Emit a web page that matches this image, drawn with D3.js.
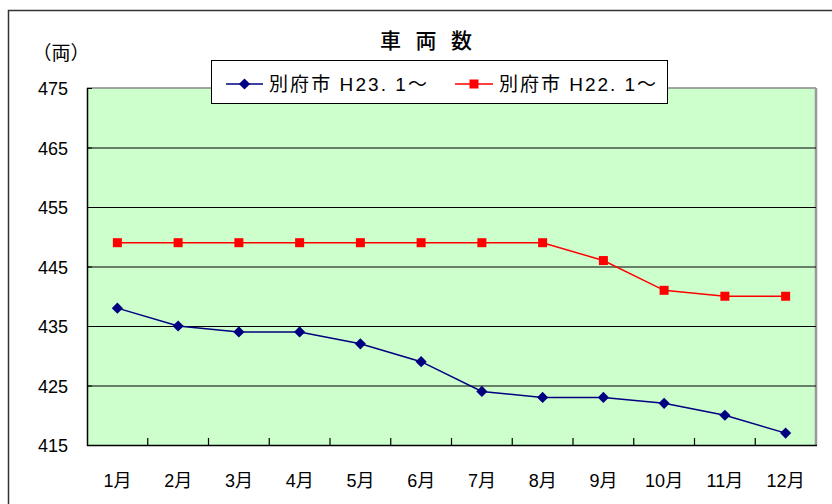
<!DOCTYPE html>
<html><head><meta charset="utf-8">
<script src="https://cdn.jsdelivr.net/npm/d3@7/dist/d3.min.js"></script>
<style>body{margin:0;background:#fff}svg{display:block}text{font-family:"Liberation Sans","Noto Sans CJK JP",sans-serif}</style>
</head><body>
<script>
const months = ["1月","2月","3月","4月","5月","6月","7月","8月","9月","10月","11月","12月"];
const seriesH23 = [438,435,434,434,432,429,424,423,423,422,420,417];
const seriesH22 = [449,449,449,449,449,449,449,449,446,441,440,440];
const yTicks = [415,425,435,445,455,465,475];
const seriesNames = ["別府市 H23. 1〜","別府市 H22. 1〜"];
const title = "車 両 数";
const unit = "（両）";

const W=832,H=504;
const svg=d3.select("body").append("svg").attr("width",W).attr("height",H);
// outer frame
svg.append("rect").attr("x",8.5).attr("y",10.5).attr("width",W).attr("height",H).attr("fill","none").attr("stroke","#333").attr("stroke-width",1.5);

const L=87,R=816,T=88,B=445;
const x=d3.scaleBand().domain(months).range([L,R]);
const y=d3.scaleLinear().domain([415,475]).range([B,T]);

svg.append("rect").attr("x",L).attr("y",T).attr("width",R-L).attr("height",B-T).attr("fill","#ccffcc");
svg.append("line").attr("x1",L).attr("x2",R).attr("y1",T).attr("y2",T).attr("stroke","#888").attr("stroke-width",1.5);
svg.append("line").attr("x1",R).attr("x2",R).attr("y1",T).attr("y2",B).attr("stroke","#999").attr("stroke-width",2.5);
svg.append("g").selectAll("line").data(yTicks.filter(d=>d>415&&d<475)).join("line")
 .attr("x1",L).attr("x2",R).attr("y1",d=>y(d)+0.5).attr("y2",d=>y(d)+0.5).attr("stroke","#000").attr("stroke-width",1);

// y axis
const yAxis=svg.append("g").attr("transform",`translate(${L},0)`)
 .call(d3.axisLeft(y).tickValues(yTicks).tickSize(-5).tickFormat(d3.format("d")));
yAxis.select(".domain").remove();
yAxis.selectAll("line").attr("stroke","#000");
yAxis.selectAll("text").attr("font-size",18).attr("fill","#000").attr("x",-19).attr("dy","0.38em");
svg.append("line").attr("x1",L+0.5).attr("x2",L+0.5).attr("y1",T).attr("y2",B+1).attr("stroke","#000").attr("stroke-width",1.5);

// x axis
const xAxis=svg.append("g").attr("transform",`translate(0,${B})`)
 .call(d3.axisBottom(x).tickSize(0).tickPadding(29));
xAxis.select(".domain").remove();
xAxis.selectAll("text").attr("font-size",18).attr("fill","#000");
svg.append("line").attr("x1",L).attr("x2",R+1).attr("y1",B+0.5).attr("y2",B+0.5).attr("stroke","#000").attr("stroke-width",1.5);
svg.append("g").selectAll("line").data(months.slice(1)).join("line")
 .attr("x1",d=>x(d)).attr("x2",d=>x(d)).attr("y1",B).attr("y2",B-7).attr("stroke","#000").attr("stroke-width",1.2);

const cx=d=>x(d)+x.bandwidth()/2;
const line=d3.line().x((d,i)=>cx(months[i])).y(d=>y(d));
svg.append("path").datum(seriesH22).attr("d",line).attr("fill","none").attr("stroke","#ff0000").attr("stroke-width",1.5);
svg.append("g").selectAll("rect").data(seriesH22).join("rect")
 .attr("x",(d,i)=>cx(months[i])-4.5).attr("y",d=>y(d)-4.5).attr("width",9).attr("height",9).attr("fill","#ff0000");
svg.append("path").datum(seriesH23).attr("d",line).attr("fill","none").attr("stroke","#000080").attr("stroke-width",1.5);
const dia=d3.symbol().type(d3.symbolDiamond2).size(80);
svg.append("g").selectAll("path").data(seriesH23).join("path")
 .attr("d",dia).attr("transform",(d,i)=>`translate(${cx(months[i])},${y(d)})`).attr("fill","#000080");

// title
svg.append("text").attr("x",426).attr("y",48).attr("text-anchor","middle").attr("font-size",21).attr("font-weight","500").attr("fill","#000")
 .attr("textLength",92).attr("lengthAdjust","spacing").text(title);
// unit
svg.append("text").attr("x",61).attr("y",60).attr("text-anchor","middle").attr("font-size",19).attr("fill","#000").text(unit);

// legend
const lg=svg.append("g");
lg.append("rect").attr("x",211.5).attr("y",60.5).attr("width",456).attr("height",43).attr("fill","#fff").attr("stroke","#000").attr("stroke-width",1);
const ly=84;
lg.append("line").attr("x1",226).attr("x2",263).attr("y1",ly).attr("y2",ly).attr("stroke","#000080").attr("stroke-width",1.5);
lg.append("path").attr("d",dia).attr("transform",`translate(244.5,${ly})`).attr("fill","#000080");
lg.append("text").attr("x",269).attr("y",ly).attr("dy","0.35em").attr("font-size",19).attr("fill","#000")
 .attr("textLength",158).attr("lengthAdjust","spacing").text(seriesNames[0]);
lg.append("line").attr("x1",455).attr("x2",493).attr("y1",ly).attr("y2",ly).attr("stroke","#ff0000").attr("stroke-width",1.5);
lg.append("rect").attr("x",469.5).attr("y",ly-4.5).attr("width",9).attr("height",9).attr("fill","#ff0000");
lg.append("text").attr("x",499).attr("y",ly).attr("dy","0.35em").attr("font-size",19).attr("fill","#000")
 .attr("textLength",157).attr("lengthAdjust","spacing").text(seriesNames[1]);
</script>
</body></html>
